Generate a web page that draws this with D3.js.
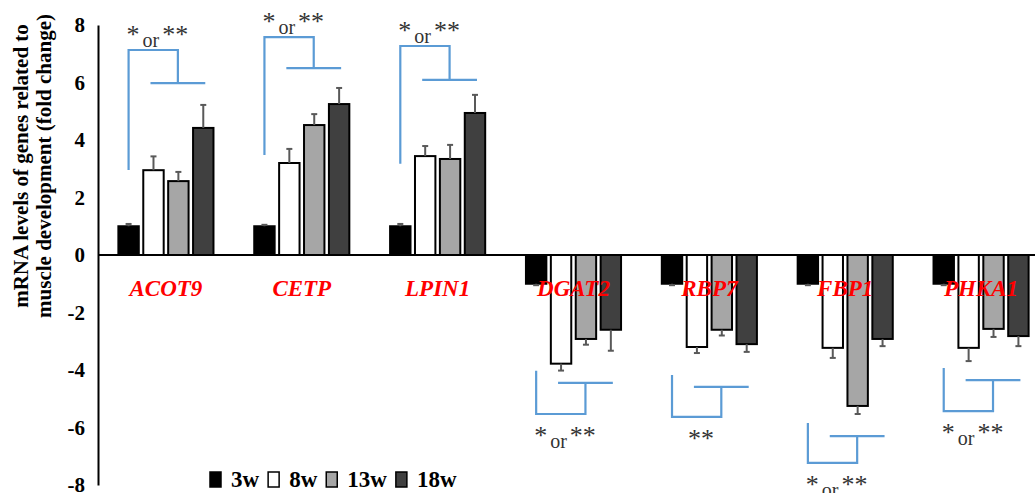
<!DOCTYPE html>
<html>
<head>
<meta charset="utf-8">
<script src="https://cdn.jsdelivr.net/npm/d3@7"></script>
<style>
  body { margin: 0; background: #fff; }
  svg { display: block; }
  text { font-family: "Liberation Serif", "Times New Roman", serif; }
</style>
</head>
<body>
<svg id="chart" width="1035" height="493"></svg>
<script>
////////////////// DATA
const genes = ["ACOT9", "CETP", "LPIN1", "DGAT2", "RBP7", "FBP1", "PHKA1"];
const weeks = ["3w", "8w", "13w", "18w"];

// fold change per week, one value per gene
const w3  = [1.0, 1.0, 1.0, -1.0, -1.0, -1.0, -1.0];
const w8  = [2.95, 3.2, 3.44, -3.78, -3.2, -3.23, -3.23];
const w13 = [2.57, 4.52, 3.34, -2.92, -2.6, -5.25, -2.57];
const w18 = [4.42, 5.25, 4.94, -2.6, -3.1, -2.92, -2.82];

// error bars (SE)
const e3  = [0.08, 0.05, 0.08, 0.05, 0.05, 0.05, 0.05];
const e8  = [0.48, 0.49, 0.35, 0.24, 0.21, 0.35, 0.46];
const e13 = [0.32, 0.38, 0.49, 0.2, 0.2, 0.28, 0.28];
const e18 = [0.8, 0.56, 0.63, 0.73, 0.27, 0.25, 0.35];

// significance brackets (y levels in fold change units)
const bracketOuter = [7.13, 7.58, 7.27, -5.53, -5.63, -7.23, -5.43];
const bracketInner = [5.98, 6.5, 6.09, -4.45, -4.59, -6.3, -4.35];
const bracketEnd   = [2.96, 3.48, 3.17, -4.03, -4.17, -5.84, -3.93];
const sigLabels    = ["* or **", "* or **", "* or **", "* or **", "**", "* or **", "* or **"];

const yTicks = [-8, -6, -4, -2, 0, 2, 4, 6, 8];
const fills = ["#000000", "#ffffff", "#a6a6a6", "#404040"];
//////////////////////////////////////////////////

const values = [w3, w8, w13, w18];
const errors = [e3, e8, e13, e18];
const rows = [];
genes.forEach((g, gi) => {
  weeks.forEach((w, wi) => {
    rows.push({ gene: g, week: w, value: values[wi][gi], err: errors[wi][gi] });
  });
});

const width = 1035, height = 493;
const svg = d3.select('#chart');

const x0 = d3.scaleBand().domain(genes).range([98, 1049]).paddingInner(0.3).paddingOuter(0.15);
const x1 = d3.scaleBand().domain(weeks).range([0, x0.bandwidth()]).paddingInner(0.18);
const y = d3.scaleLinear().domain([-8, 8]).range([485, 25]);
const color = d3.scaleOrdinal().domain(weeks).range(fills);

const cx = (g, w) => x0(g) + x1(w) + x1.bandwidth() / 2;

////////////////// Y AXIS
const yAxisG = svg.append('g')
  .attr('transform', 'translate(98,0)')
  .call(d3.axisLeft(y).tickValues(yTicks).tickSize(0).tickSizeOuter(0).tickPadding(13).tickFormat(d => String(d)));
yAxisG.select('.domain').attr('stroke', '#000').attr('stroke-width', 2);
yAxisG.selectAll('text')
  .attr('font-size', 21)
  .attr('font-weight', 'bold')
  .attr('fill', '#000')
  .style('font-family', '"Liberation Serif", "Times New Roman", serif');

const title = svg.append('text')
  .attr('transform', 'translate(28,166) rotate(-90)')
  .attr('text-anchor', 'middle')
  .attr('font-size', 21)
  .attr('font-weight', 'bold');
title.append('tspan').attr('x', 0).attr('y', 0).text('mRNA levels of genes related to');
title.append('tspan').attr('x', 0).attr('y', 23).text('muscle development (fold change)');

////////////////// BARS
const bars = svg.append('g');
bars.selectAll('rect')
  .data(rows)
  .enter().append('rect')
    .attr('x', d => x0(d.gene) + x1(d.week))
    .attr('y', d => y(Math.max(0, d.value)))
    .attr('width', x1.bandwidth())
    .attr('height', d => Math.abs(y(d.value) - y(0)))
    .attr('fill', d => color(d.week))
    .attr('stroke', '#000')
    .attr('stroke-width', 2);

// error bars go outward from the bar end
const errG = svg.append('g').attr('stroke', '#595959').attr('stroke-width', 2);
const errEnd = d => d.value >= 0 ? d.value + d.err : d.value - d.err;
errG.selectAll('line.stem')
  .data(rows)
  .enter().append('line')
    .attr('class', 'stem')
    .attr('x1', d => cx(d.gene, d.week))
    .attr('x2', d => cx(d.gene, d.week))
    .attr('y1', d => y(d.value))
    .attr('y2', d => y(errEnd(d)));
errG.selectAll('line.cap')
  .data(rows)
  .enter().append('line')
    .attr('class', 'cap')
    .attr('x1', d => cx(d.gene, d.week) - 3)
    .attr('x2', d => cx(d.gene, d.week) + 3)
    .attr('y1', d => y(errEnd(d)))
    .attr('y2', d => y(errEnd(d)));

// zero line
svg.append('line')
  .attr('x1', 98).attr('x2', width)
  .attr('y1', y(0)).attr('y2', y(0))
  .attr('stroke', '#000').attr('stroke-width', 2);

////////////////// GENE LABELS
svg.append('g').selectAll('text')
  .data(genes)
  .enter().append('text')
    .attr('x', d => x0(d) + x0.bandwidth() / 2)
    .attr('y', y(0) + 41)
    .attr('text-anchor', 'middle')
    .attr('font-size', 23)
    .attr('font-weight', 'bold')
    .attr('font-style', 'italic')
    .attr('fill', '#ff0000')
    .text(d => d);

////////////////// SIGNIFICANCE BRACKETS
const brG = svg.append('g');
genes.forEach((g, i) => {
  const xl = cx(g, '3w');
  const xa = cx(g, '8w') - 3;
  const xb = cx(g, '18w') + 2;
  const xm = (xa + xb) / 2;
  const yo = y(bracketOuter[i]);
  const yi = y(bracketInner[i]);
  const ye = y(bracketEnd[i]);
  brG.append('path')
    .attr('d', `M${xl},${ye}V${yo}H${xm}V${yi}M${xa},${yi}H${xb}`)
    .attr('fill', 'none')
    .attr('stroke', '#5b9bd5')
    .attr('stroke-width', 2.2);

  const up = bracketOuter[i] > 0;
  const base = up ? yo - 7 : yo + 30;
  const t = brG.append('text')
    .attr('x', xl - 2)
    .attr('y', base)
    .attr('font-size', 26)
    .attr('fill', '#333');
  if (sigLabels[i] === '**') {
    t.attr('x', xl + 16).text('**');
  } else {
    t.append('tspan').text('*');
    t.append('tspan').attr('dx', 3).attr('dy', 4).attr('font-size', 20).text('or');
    t.append('tspan').attr('dx', 3).attr('dy', -4).text('**');
  }
});

////////////////// LEGEND
const legend = svg.append('g').attr('transform', 'translate(210,472)');
let lx = 0;
weeks.forEach(w => {
  const item = legend.append('g').attr('transform', `translate(${lx},0)`);
  item.append('rect')
    .attr('width', 11)
    .attr('height', 15)
    .attr('fill', color(w))
    .attr('stroke', '#000')
    .attr('stroke-width', 1.5);
  const txt = item.append('text')
    .attr('x', 21)
    .attr('y', 15)
    .attr('font-size', 23)
    .attr('font-weight', 'bold')
    .text(w);
  lx += 21 + txt.node().getComputedTextLength() + 9;
});
</script>
</body>
</html>
